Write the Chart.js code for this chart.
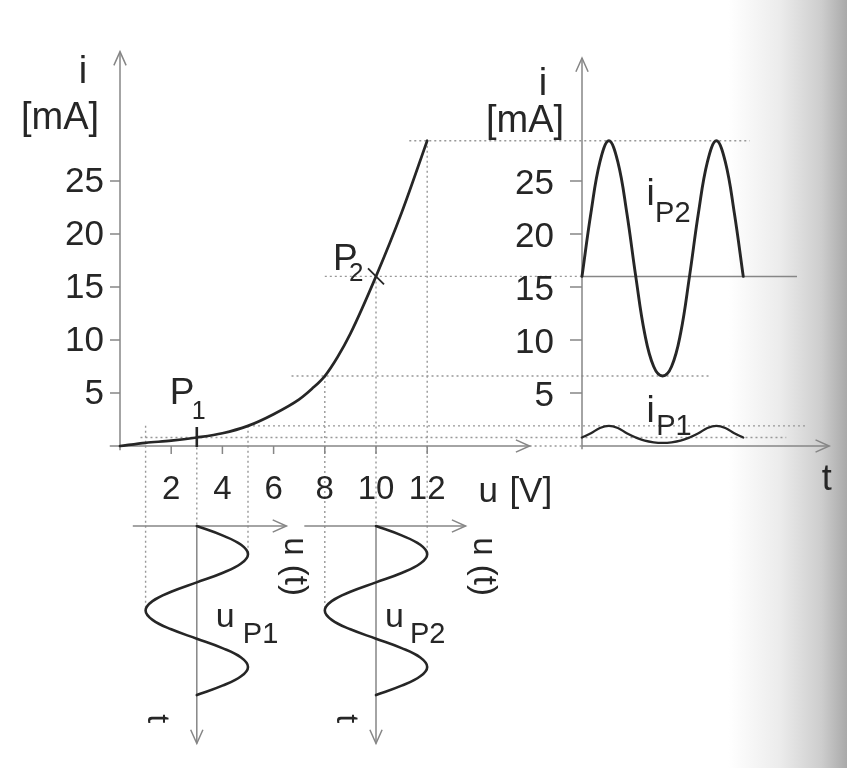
<!DOCTYPE html>
<html>
<head>
<meta charset="utf-8">
<title>Diode characteristic and working points</title>
<script src="https://cdn.jsdelivr.net/npm/chart.js@4.4.1/dist/chart.umd.min.js"></script>
<style>
  html, body { margin: 0; padding: 0; }
  body {
    width: 847px; height: 768px; overflow: hidden;
    background: linear-gradient(to right, #fff 0%, #fff 86%, #ececec 92%, #cdcdcd 97%, #a9a9a9 100%);
  }
  #wrap { position: relative; width: 847px; height: 768px; }
</style>
</head>
<body>
<div id="wrap"><canvas id="chart" width="847" height="768"></canvas></div>
<script>
// diode characteristic i = f(u)
const uPoints = [0, 1, 2, 3, 4, 5, 6, 7, 7.5, 8, 8.5, 9, 10, 11, 12];                       // V
const iPoints = [0, 0.3, 0.5, 0.8, 1.2, 1.9, 3.0, 4.4, 5.4, 6.6, 8.4, 10.6, 16.0, 22.0, 28.8]; // mA

// working points
const P1 = { u: 3, i: 0.8 };
const P2 = { u: 10, i: 16 };

// time for the small waveforms, in degrees (1.5 periods)
const phaseDeg = [0, 30, 60, 90, 120, 150, 180, 210, 240, 270, 300, 330, 360, 390, 420, 450, 480, 510, 540];

// input voltages around P1 and P2
const uP1 = [3, 4, 4.73, 5, 4.73, 4, 3, 2, 1.27, 1, 1.27, 2, 3, 4, 4.73, 5, 4.73, 4, 3];
const uP2 = [10, 11, 11.73, 12, 11.73, 11, 10, 9, 8.27, 8, 8.27, 9, 10, 11, 11.73, 12, 11.73, 11, 10];

// resulting currents (right-hand plot)
const iP1 = [0.8, 1.2, 1.7, 1.9, 1.7, 1.2, 0.8, 0.5, 0.35, 0.3, 0.35, 0.5, 0.8, 1.2, 1.7, 1.9, 1.7, 1.2, 0.8];
const iP2 = [16, 22, 26.8, 28.8, 26.8, 22, 16, 10.6, 7.5, 6.6, 7.5, 10.6, 16, 22, 26.8, 28.8, 26.8, 22, 16];

// tick labels
const iTicks = [5, 10, 15, 20, 25];
const uTicks = [2, 4, 6, 8, 10, 12];

// ---- page layout: where the zero of each scale sits and how many pixels per unit
const W = 847, H = 768;
function span(zeroPx, perUnit, size) {
  return { min: -zeroPx / perUnit, max: (size - zeroPx) / perUnit };
}
const uRange = span(120, 25.6, W);      // u [V], horizontal
const tRange = span(582, 107.5, W);     // time (periods) of the current plot
const sRange = span(526, 112.7, H);     // time (periods) of the voltage plots, runs downward
const iRange = { min: -(H - 446) / 10.6, max: 446 / 10.6 }; // i [mA]

const INK = '#262626';
const TEXT = '#262626';
const AXIS = '#868686';
const GUIDE = '#989898';
const FONT = '"Liberation Sans", Arial, Helvetica, sans-serif';

const periods = phaseDeg.map(d => d / 360);

function curve(data, xId, yId, width, extra) {
  return Object.assign({
    data: data, xAxisID: xId, yAxisID: yId,
    showLine: true, borderColor: INK, borderWidth: width || 2.6,
    pointRadius: 0, tension: 0.4, borderCapStyle: 'round', fill: false, clip: false
  }, extra || {});
}

function arrowHead(ctx, x, y, dx, dy) {
  const len = 15, a = 0.42, ang = Math.atan2(dy, dx);
  ctx.beginPath();
  ctx.moveTo(x - len * Math.cos(ang - a), y - len * Math.sin(ang - a));
  ctx.lineTo(x, y);
  ctx.lineTo(x - len * Math.cos(ang + a), y - len * Math.sin(ang + a));
  ctx.stroke();
}

function seg(ctx, x1, y1, x2, y2) {
  ctx.beginPath();
  ctx.moveTo(x1, y1);
  ctx.lineTo(x2, y2);
  ctx.stroke();
}

function text(ctx, str, x, y, size, align) {
  ctx.font = size + 'px ' + FONT;
  ctx.textAlign = align || 'left';
  ctx.fillText(str, x, y);
}

function rotText(ctx, str, cx, cy, size) {
  ctx.save();
  ctx.translate(cx, cy);
  ctx.rotate(Math.PI / 2);
  ctx.font = size + 'px ' + FONT;
  ctx.textAlign = 'left';
  ctx.textBaseline = 'middle';
  ctx.fillText(str, 0, 0);
  ctx.restore();
}

// axes, projection lines and labels
const inkPlugin = {
  id: 'ink',
  beforeDatasetsDraw(chart) {
    const ctx = chart.ctx;
    const sc = chart.scales;
    const X = v => sc.u.getPixelForValue(v);
    const Y = v => sc.i.getPixelForValue(v);
    const T = v => sc.t.getPixelForValue(v);
    const S = v => sc.s.getPixelForValue(v);

    const i2max = Math.max(...iP2), i2min = Math.min(...iP2);
    const i1max = Math.max(...iP1);
    const u2max = Math.max(...uP2), u2min = Math.min(...uP2);
    const u1max = Math.max(...uP1), u1min = Math.min(...uP1);
    const tEnd = periods[periods.length - 1];
    const sEnd = periods[periods.length - 1];

    ctx.save();
    ctx.lineCap = 'butt';

    // dotted projection lines
    ctx.strokeStyle = GUIDE;
    ctx.lineWidth = 1.4;
    ctx.setLineDash([2, 3]);
    seg(ctx, X(11.3), Y(i2max), T(tEnd + 0.06), Y(i2max));
    seg(ctx, X(8), Y(P2.i), T(0), Y(P2.i));
    seg(ctx, X(6.7), Y(i2min), T(1.2), Y(i2min));
    seg(ctx, X(u1max), Y(i1max), T(2.1), Y(i1max));
    seg(ctx, X(0.8), Y(P1.i), T(1.9), Y(P1.i));
    seg(ctx, X(u2max), Y(i2max), X(u2max), S(0.25));
    seg(ctx, X(u2min), Y(i2min), X(u2min), S(0.75));
    seg(ctx, X(P2.u), Y(P2.i), X(P2.u), S(0));
    seg(ctx, X(u1max), Y(i1max), X(u1max), S(0.25));
    seg(ctx, X(u1min), Y(i1max), X(u1min), S(0.75));
    seg(ctx, X(P1.u), Y(P1.i), X(P1.u), S(0));
    seg(ctx, X(16), Y(0), T(0), Y(0));

    // solid axes
    ctx.setLineDash([]);
    ctx.strokeStyle = AXIS;
    ctx.lineWidth = 1.5;
    // main i axis
    seg(ctx, X(0), Y(-0.4), X(0), Y(37.2));
    arrowHead(ctx, X(0), Y(37.2), 0, -1);
    // main u axis
    seg(ctx, X(-0.4), Y(0), X(16), Y(0));
    arrowHead(ctx, X(16), Y(0), 1, 0);
    // current plot axes
    seg(ctx, T(0), Y(-0.3), T(0), Y(36.6));
    arrowHead(ctx, T(0), Y(36.6), 0, -1);
    seg(ctx, T(0), Y(0), T(2.3), Y(0));
    arrowHead(ctx, T(2.3), Y(0), 1, 0);
    seg(ctx, T(0), Y(P2.i), T(2.0), Y(P2.i));
    // voltage plot axes
    seg(ctx, X(0.5), S(0), X(6.5), S(0));
    arrowHead(ctx, X(6.5), S(0), 1, 0);
    seg(ctx, X(7.2), S(0), X(13.5), S(0));
    arrowHead(ctx, X(13.5), S(0), 1, 0);
    [P1.u, P2.u].forEach(u0 => {
      seg(ctx, X(u0), S(0), X(u0), S(sEnd + 0.43));
      arrowHead(ctx, X(u0), S(sEnd + 0.43), 0, 1);
    });

    // tick marks
    iTicks.forEach(v => {
      seg(ctx, X(0) - 10, Y(v), X(0), Y(v));
      seg(ctx, T(0) - 12, Y(v), T(0), Y(v));
    });
    uTicks.forEach(v => seg(ctx, X(v), Y(0), X(v), Y(0) + 8));

    // working point marks
    ctx.strokeStyle = INK;
    ctx.lineWidth = 2.6;
    seg(ctx, X(P1.u), Y(0) + 1, X(P1.u), Y(0) - 19);
    ctx.lineWidth = 1.8;
    seg(ctx, X(P2.u) - 8, Y(P2.i) - 8, X(P2.u) + 8, Y(P2.i) + 8);

    // text
    ctx.fillStyle = TEXT;
    ctx.textBaseline = 'middle';
    iTicks.forEach(v => {
      text(ctx, String(v), X(0) - 16, Y(v) + 1, 35, 'right');
      text(ctx, String(v), T(0) - 28, Y(v) + 3, 35, 'right');
    });
    uTicks.forEach(v => text(ctx, String(v), X(v), Y(0) + 44, 33, 'center'));

    ctx.textBaseline = 'alphabetic';
    text(ctx, 'u', X(14), Y(0) + 56, 35);
    text(ctx, '[V]', X(14) + 31, Y(0) + 56, 35);

    text(ctx, 'i', 83, 83, 38, 'center');
    text(ctx, '[mA]', 21, 129, 38);
    text(ctx, 'i', T(0) - 39, 95, 38, 'center');
    text(ctx, '[mA]', T(0) - 96, 132, 38);

    // working point names
    text(ctx, 'P', X(P1.u) - 27, Y(P1.i) - 34, 37);
    text(ctx, '1', X(P1.u) - 5, Y(P1.i) - 19, 25);
    text(ctx, 'P', X(P2.u) - 43, Y(P2.i) - 6, 37);
    text(ctx, '2', X(P2.u) - 27, Y(P2.i) + 5, 26);

    // curve names
    text(ctx, 'i', T(0.6), Y(P2.i) - 71, 37);
    text(ctx, 'P2', T(0.68), Y(P2.i) - 54, 29);
    text(ctx, 'i', T(0.6), Y(0) - 24, 37);
    text(ctx, 'P1', T(0.69), Y(0) - 11, 29);
    text(ctx, 'u', X(P1.u) + 19, S(0.9), 34);
    text(ctx, 'P1', X(P1.u) + 46, S(1.04), 29);
    text(ctx, 'u', X(P2.u) + 9, S(0.9), 34);
    text(ctx, 'P2', X(P2.u) + 34, S(1.04), 29);

    // rotated axis names
    rotText(ctx, 'u (t)', X(6.8), S(0.1), 33);
    rotText(ctx, 'u (t)', X(14.2), S(0.1), 33);
    rotText(ctx, 't', X(P1.u) - 40, S(sEnd + 0.17), 32);
    rotText(ctx, 't', X(P2.u) - 30, S(sEnd + 0.17), 32);
    text(ctx, 't', T(2.23), Y(0) + 44, 36);

    ctx.restore();
  }
};

document.addEventListener('DOMContentLoaded', () => {
  new Chart(document.getElementById('chart'), {
    type: 'scatter',
    data: {
      datasets: [
        curve(uPoints.map((u, k) => ({ x: u, y: iPoints[k] })), 'u', 'i', 2.7, { cubicInterpolationMode: 'monotone' }),
        curve(periods.map((p, k) => ({ x: p, y: iP2[k] })), 't', 'i', 2.9),
        curve(periods.map((p, k) => ({ x: p, y: iP1[k] })), 't', 'i', 2.3),
        curve(periods.map((p, k) => ({ x: uP1[k], y: p })), 'u', 's', 2.6),
        curve(periods.map((p, k) => ({ x: uP2[k], y: p })), 'u', 's', 2.6)
      ]
    },
    options: {
      responsive: false,
      maintainAspectRatio: false,
      devicePixelRatio: 1,
      animation: false,
      events: [],
      layout: { padding: 0 },
      plugins: { legend: { display: false }, tooltip: { enabled: false } },
      scales: {
        u: { type: 'linear', axis: 'x', display: false, min: uRange.min, max: uRange.max },
        t: { type: 'linear', axis: 'x', display: false, min: tRange.min, max: tRange.max },
        i: { type: 'linear', axis: 'y', display: false, min: iRange.min, max: iRange.max },
        s: { type: 'linear', axis: 'y', display: false, reverse: true, min: sRange.min, max: sRange.max }
      }
    },
    plugins: [inkPlugin]
  });
});
</script>
</body>
</html>
